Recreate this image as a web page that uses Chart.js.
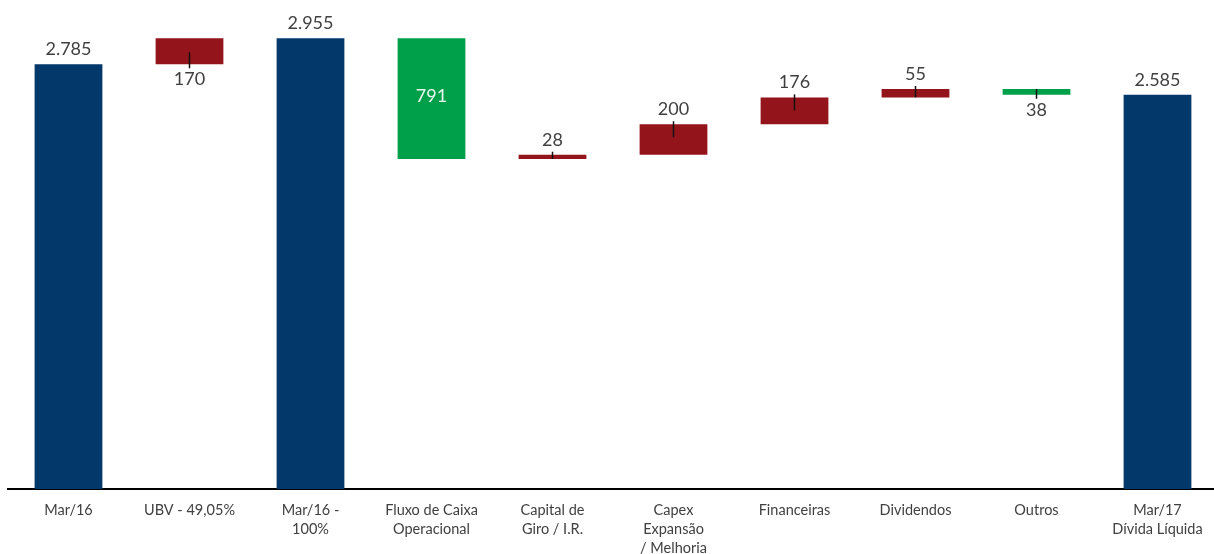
<!DOCTYPE html>
<html>
<head>
<meta charset="utf-8">
<script src="https://cdn.jsdelivr.net/npm/chart.js@4/dist/chart.umd.min.js"></script>
<style>
  html, body { margin: 0; padding: 0; background: #fff; overflow: hidden; }
  #wrap { width: 1218px; height: 554px; }
</style>
</head>
<body>
<div id="wrap"><canvas id="grafica" width="1218" height="554"></canvas></div>
<script>
// Dados do gráfico (R$ milhões)
const categories = [
    ['Mar/16'],
    ['UBV - 49,05%'],
    ['Mar/16 -', '100%'],
    ['Fluxo de Caixa', 'Operacional'],
    ['Capital de', 'Giro / I.R.'],
    ['Capex', 'Expansão', '/ Melhoria'],
    ['Financeiras'],
    ['Dividendos'],
    ['Outros'],
    ['Mar/17', 'Dívida Líquida']
];
const values = [2785, 170, 2955, -791, 28, 200, 176, 55, -38, 2585];
const isTotal = [true, false, true, false, false, false, false, false, false, true];

// onde fica o rótulo de cada barra
const labelPos = ['above', 'below', 'above', 'inside', 'above', 'above', 'above', 'above', 'below', 'above'];

const navy = '#03386b';
const red = '#93141a';
const green = '#00a04a';

// monta as barras flutuantes (cascata)
let running = 0;
const ranges = [];
const colors = [];
values.forEach((v, i) => {
    if (isTotal[i]) {
        ranges.push([0, v]);
        running = v;
        colors.push(navy);
    } else {
        ranges.push([running, running + v]);
        running += v;
        colors.push(v >= 0 ? red : green);
    }
});

function fmt(n) {
    n = Math.abs(n);
    return String(n).replace(/\B(?=(\d{3})+(?!\d))/g, '.');
}

const labelPlugin = {
    id: 'valueLabels',
    afterDatasetsDraw(chart) {
        const ctx = chart.ctx;
        const meta = chart.getDatasetMeta(0);
        ctx.save();
        ctx.font = '18px Lato, sans-serif';
        ctx.textAlign = 'center';
        ctx.textBaseline = 'middle';
        meta.data.forEach((bar, i) => {
            const top = Math.min(bar.y, bar.base);
            const bottom = Math.max(bar.y, bar.base);
            const x = bar.x;
            const txt = fmt(values[i]);
            const pos = labelPos[i];
            ctx.strokeStyle = '#111';
            ctx.lineWidth = 1.5;
            if (pos === 'above') {
                ctx.fillStyle = '#404040';
                ctx.fillText(txt, x, top - 15);
                if (!isTotal[i]) {
                    ctx.beginPath();
                    ctx.moveTo(x, top - 3);
                    ctx.lineTo(x, Math.min(top + 13, bottom));
                    ctx.stroke();
                }
            } else if (pos === 'below') {
                ctx.fillStyle = '#404040';
                ctx.fillText(txt, x, bottom + 15);
                ctx.beginPath();
                ctx.moveTo(x, Math.max(bottom - 12, top));
                ctx.lineTo(x, bottom + 4);
                ctx.stroke();
            } else {
                ctx.fillStyle = '#e8f5ee';
                ctx.fillText(txt, x, (top + bottom) / 2 - 2);
            }
        });
        ctx.restore();
    }
};

const financeChart = new Chart(document.getElementById('grafica'), {
    type: 'bar',
    data: {
        labels: categories,
        datasets: [{
            data: ranges,
            backgroundColor: colors,
            borderWidth: 0,
            categoryPercentage: 1,
            barPercentage: 0.56
        }]
    },
    options: {
        responsive: false,
        animation: false,
        layout: { padding: { left: 8, right: 0, top: 1, bottom: 0 } },
        plugins: {
            legend: { display: false },
            tooltip: { enabled: false }
        },
        scales: {
            x: {
                grid: { display: false, drawTicks: false },
                border: { display: true, color: '#000', width: 2 },
                ticks: {
                    color: '#404040',
                    font: { family: 'Lato, sans-serif', size: 14.5, lineHeight: 1.3 },
                    padding: 12,
                    maxRotation: 0,
                    autoSkip: false
                },
                afterFit(scale) { scale.height = 65; }
            },
            y: {
                display: false,
                min: 0,
                max: 3200
            }
        }
    },
    plugins: [labelPlugin]
});
</script>
</body>
</html>
